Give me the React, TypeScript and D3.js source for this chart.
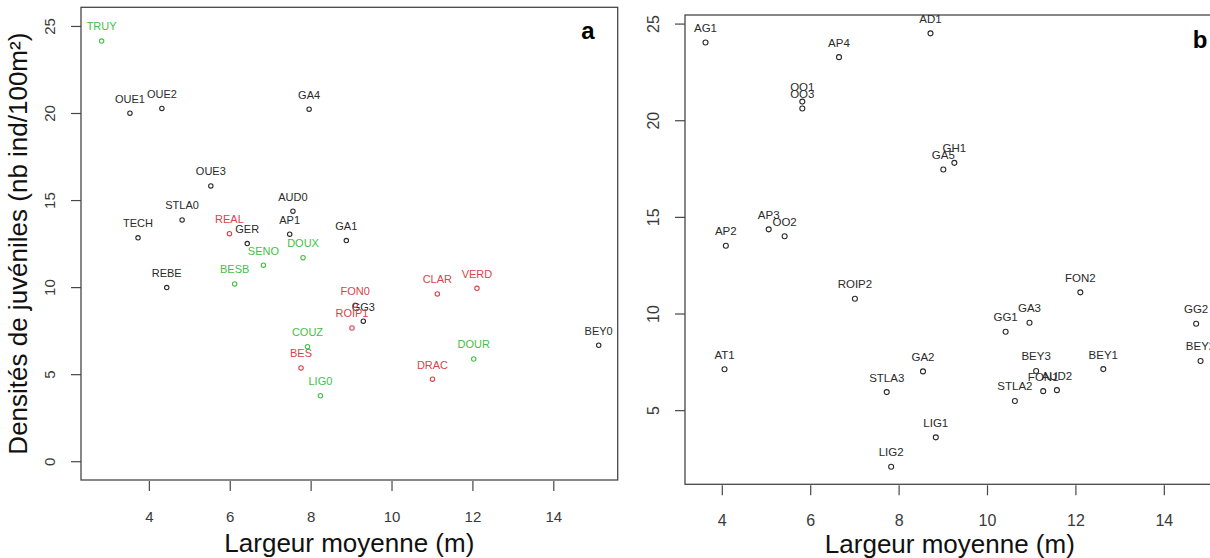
import React from 'react';
import * as d3 from 'd3';

// panel a : stations (0 = black, 1 = red, 2 = green)
const aNames = ['TRUY', 'OUE1', 'OUE2', 'GA4', 'OUE3', 'AUD0', 'STLA0', 'TECH', 'REAL', 'AP1', 'GER', 'SENO', 'DOUX', 'GA1', 'REBE', 'BESB', 'CLAR', 'VERD', 'FON0', 'GG3', 'ROIP1', 'COUZ', 'BES', 'LIG0', 'DOUR', 'DRAC', 'BEY0'];
const aWidth = [2.82, 3.52, 4.31, 7.95, 5.52, 7.55, 4.81, 3.72, 5.98, 7.47, 6.42, 6.82, 7.8, 8.87, 4.43, 6.11, 11.12, 12.1, 9.09, 9.29, 9.01, 7.91, 7.75, 8.23, 12.02, 11.0, 15.11];
const aDensity = [24.16, 20.02, 20.29, 20.25, 15.84, 14.39, 13.89, 12.86, 13.1, 13.07, 12.53, 11.29, 11.72, 12.7, 10.0, 10.21, 9.64, 9.96, 8.99, 8.07, 7.68, 6.61, 5.39, 3.79, 5.9, 4.74, 6.69];
const aGroup = [2, 0, 0, 0, 0, 0, 0, 0, 1, 0, 0, 2, 2, 0, 0, 2, 1, 1, 1, 0, 1, 2, 1, 2, 2, 1, 0];

// panel b
const bNames = ['AG1', 'AP4', 'AD1', 'OO1', 'OO3', 'GH1', 'GA5', 'AP3', 'OO2', 'AP2', 'ROIP2', 'FON2', 'GA3', 'GG1', 'GG2', 'BEY2', 'AT1', 'GA2', 'BEY1', 'BEY3', 'FON1', 'AUD2', 'STLA3', 'STLA2', 'LIG1', 'LIG2'];
const bWidth = [3.62, 6.64, 8.71, 5.81, 5.81, 9.25, 9.0, 5.05, 5.41, 4.08, 7.0, 12.1, 10.95, 10.41, 14.72, 14.82, 4.05, 8.54, 12.62, 11.1, 11.26, 11.57, 7.72, 10.62, 8.83, 7.82];
const bDensity = [24.05, 23.29, 24.52, 20.99, 20.63, 17.82, 17.48, 14.38, 14.02, 13.53, 10.79, 11.12, 9.55, 9.08, 9.5, 7.57, 7.14, 7.03, 7.15, 7.05, 6.01, 6.06, 5.96, 5.5, 3.62, 2.1];

const xTicks = [4, 6, 8, 10, 12, 14];
const aYTicks = [0, 5, 10, 15, 20, 25];
const bYTicks = [5, 10, 15, 20, 25];

const groupColor = ['#2a2a2a', '#d9434b', '#45bf45'];
const font = "'Liberation Sans', Arial, sans-serif";

type PanelProps = {
  id: string;
  letter: string;
  names: string[];
  xs: number[];
  ys: number[];
  groups: number[];
  xDomain: [number, number];
  yDomain: [number, number];
  left: number;
  right: number;
  top: number;
  bottom: number;
  yTicks: number[];
  tickSize: number;
  labelSize: number;
  r: number;
  titleY: number;
  yTitle?: string;
  letterX: number;
  letterY: number;
};

const Panel: React.FC<PanelProps> = (p) => {
  const x = d3.scaleLinear().domain(p.xDomain).range([p.left, p.right]);
  const y = d3.scaleLinear().domain(p.yDomain).range([p.bottom, p.top]);
  const cx = (p.left + p.right) / 2;
  const cy = (p.top + p.bottom) / 2;
  return (
    <g fontFamily={font}>
      <defs>
        <clipPath id={`clip-${p.id}`}>
          <rect x={p.left} y={p.top} width={p.right - p.left} height={p.bottom - p.top} />
        </clipPath>
      </defs>
      <rect x={p.left} y={p.top} width={p.right - p.left} height={p.bottom - p.top}
        fill="none" stroke="#474747" strokeWidth={1.3} />
      {/* x axis */}
      {xTicks.map((t) => (
        <g key={`x${t}`}>
          <line x1={x(t)} x2={x(t)} y1={p.bottom + 1} y2={p.bottom + 11} stroke="#474747" strokeWidth={1.2} />
          <text x={x(t)} y={p.bottom + 36} textAnchor="middle" dominantBaseline="central"
            fontSize={p.tickSize} fill="#3a3a3a">{t}</text>
        </g>
      ))}
      {/* y axis */}
      {p.yTicks.map((t) => (
        <g key={`y${t}`}>
          <line x1={p.left - 10} x2={p.left} y1={y(t)} y2={y(t)} stroke="#474747" strokeWidth={1.2} />
          <text transform={`translate(${p.left - 32},${y(t)}) rotate(-90)`} textAnchor="middle"
            dominantBaseline="central" fontSize={p.tickSize} fill="#3a3a3a">{t}</text>
        </g>
      ))}
      <text x={cx} y={p.titleY} textAnchor="middle" fontSize={26} fill="#111">
        Largeur moyenne (m)
      </text>
      {p.yTitle && (
        <text transform={`translate(27,${cy}) rotate(-90)`} textAnchor="middle" fontSize={26} fill="#111">
          {p.yTitle}
        </text>
      )}
      <g clipPath={`url(#clip-${p.id})`}>
        {p.names.map((n, i) => (
          <g key={n}>
            <circle cx={x(p.xs[i])} cy={y(p.ys[i])} r={p.r} fill="none"
              stroke={groupColor[p.groups[i]]} strokeWidth={1.1} />
            <text x={x(p.xs[i])} y={y(p.ys[i]) - 14.6} textAnchor="middle" dominantBaseline="central"
              fontSize={p.labelSize} fill={groupColor[p.groups[i]]}>{n}</text>
          </g>
        ))}
      </g>
      <text x={p.letterX} y={p.letterY} textAnchor="middle" fontSize={24} fontWeight="bold" fill="#000">
        {p.letter}
      </text>
    </g>
  );
};

export default function App() {
  return (
    <svg width={1210} height={558} style={{ position: 'absolute', left: 0, top: 0, background: '#fff' }}>
      <Panel id="a" letter="a" names={aNames} xs={aWidth} ys={aDensity} groups={aGroup}
        xDomain={[2.31, 15.58]} yDomain={[-1.05, 26.1]}
        left={81} right={617.7} top={7.3} bottom={480}
        yTicks={aYTicks} tickSize={15} labelSize={11} r={2.2} titleY={552}
        yTitle="Densités de juvéniles (nb ind/100m²)" letterX={588} letterY={39} />
      <Panel id="b" letter="b" names={bNames} xs={bWidth} ys={bDensity} groups={bNames.map(() => 0)}
        xDomain={[3.156, 15.14]} yDomain={[1.19, 25.47]}
        left={685} right={1214.7} top={15} bottom={484.3}
        yTicks={bYTicks} tickSize={16} labelSize={11.5} r={2.5} titleY={553}
        letterX={1200} letterY={48} />
    </svg>
  );
}
